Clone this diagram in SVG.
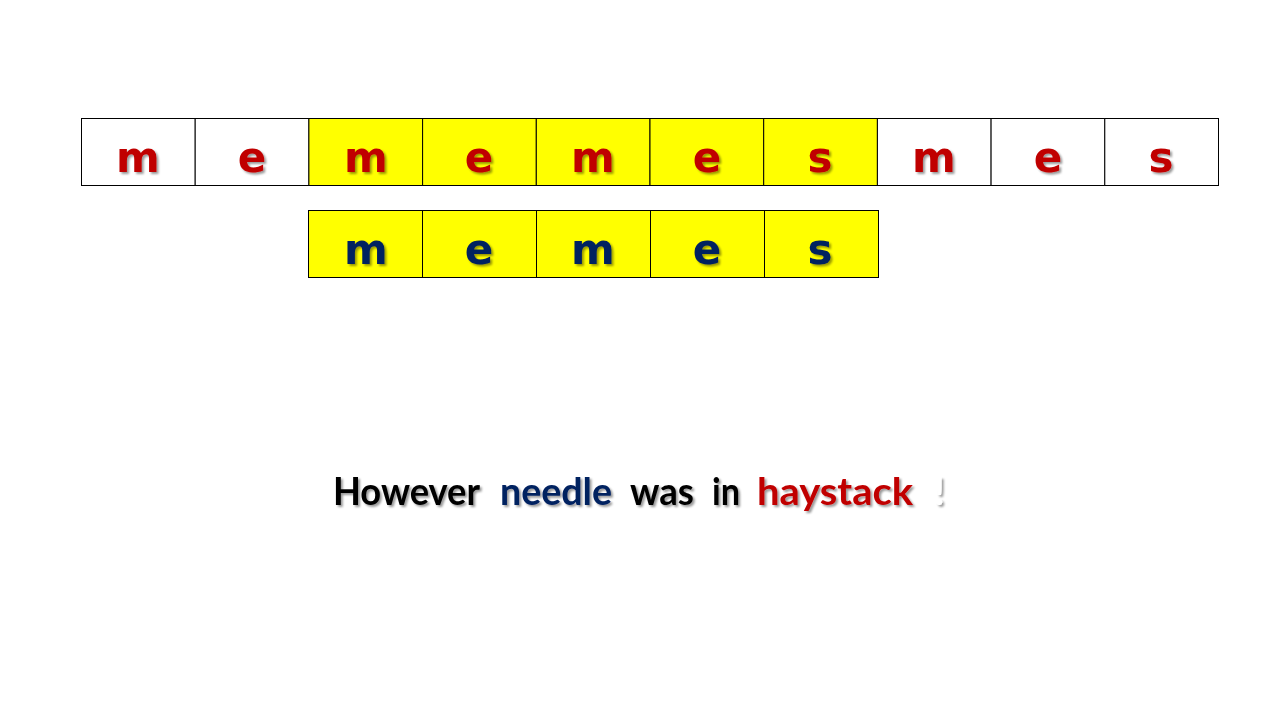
<svg xmlns="http://www.w3.org/2000/svg" width="1280" height="720" viewBox="0 0 1280 720">
<defs>
<filter id="sh" x="-20%" y="-20%" width="140%" height="140%">
<feDropShadow dx="2" dy="2" stdDeviation="1.2" flood-color="#000" flood-opacity="0.4"/>
</filter>
<style>
.c{stroke:#000;stroke-width:1;}
.w{fill:#fff;}
.y{fill:#ffff00;}
.t{font-family:"DejaVu Sans","Liberation Sans",sans-serif;font-weight:bold;font-size:42px;text-anchor:middle;filter:url(#sh);}
.r{fill:#c00000;}
.b{fill:#002060;}
.s{font-family:Lato,"DejaVu Sans",sans-serif;font-weight:bold;font-size:38px;filter:url(#sh);}
</style>
</defs>
<rect width="1280" height="720" fill="#fff"/>
<g id="haystack">
<rect class="c w" x="81.5" y="118.5" width="113.7" height="67"/>
<rect class="c w" x="195.2" y="118.5" width="113.7" height="67"/>
<rect class="c y" x="308.9" y="118.5" width="113.7" height="67"/>
<rect class="c y" x="422.6" y="118.5" width="113.7" height="67"/>
<rect class="c y" x="536.3" y="118.5" width="113.7" height="67"/>
<rect class="c y" x="650" y="118.5" width="113.7" height="67"/>
<rect class="c y" x="763.7" y="118.5" width="113.7" height="67"/>
<rect class="c w" x="877.4" y="118.5" width="113.7" height="67"/>
<rect class="c w" x="991.1" y="118.5" width="113.7" height="67"/>
<rect class="c w" x="1104.8" y="118.5" width="113.7" height="67"/>
<text class="t r" x="138" y="172">m</text>
<text class="t r" x="252" y="172">e</text>
<text class="t r" x="366" y="172">m</text>
<text class="t r" x="479" y="172">e</text>
<text class="t r" x="593" y="172">m</text>
<text class="t r" x="707" y="172">e</text>
<text class="t r" x="820" y="172">s</text>
<text class="t r" x="934" y="172">m</text>
<text class="t r" x="1048" y="172">e</text>
<text class="t r" x="1161" y="172">s</text>
</g>
<g id="needle">
<rect class="c y" x="308.5" y="210.5" width="114" height="67"/>
<rect class="c y" x="422.5" y="210.5" width="114" height="67"/>
<rect class="c y" x="536.5" y="210.5" width="114" height="67"/>
<rect class="c y" x="650.5" y="210.5" width="114" height="67"/>
<rect class="c y" x="764.5" y="210.5" width="114" height="67"/>
<text class="t b" x="366" y="264">m</text>
<text class="t b" x="479" y="264">e</text>
<text class="t b" x="593" y="264">m</text>
<text class="t b" x="707" y="264">e</text>
<text class="t b" x="820" y="264">s</text>
</g>
<g id="caption">
<text class="s" x="333" y="505" fill="#000" textLength="147" lengthAdjust="spacingAndGlyphs">However</text>
<text class="s" x="500" y="505" fill="#002060" textLength="112" lengthAdjust="spacingAndGlyphs">needle</text>
<text class="s" x="630" y="505" fill="#000" textLength="64" lengthAdjust="spacingAndGlyphs">was</text>
<text class="s" x="712" y="505" fill="#000" textLength="28" lengthAdjust="spacingAndGlyphs">in</text>
<text class="s" x="757" y="505" fill="#c00000" textLength="156" lengthAdjust="spacingAndGlyphs">haystack</text>
<text class="s" x="934" y="505" fill="#fff">!</text>
</g>
</svg>
